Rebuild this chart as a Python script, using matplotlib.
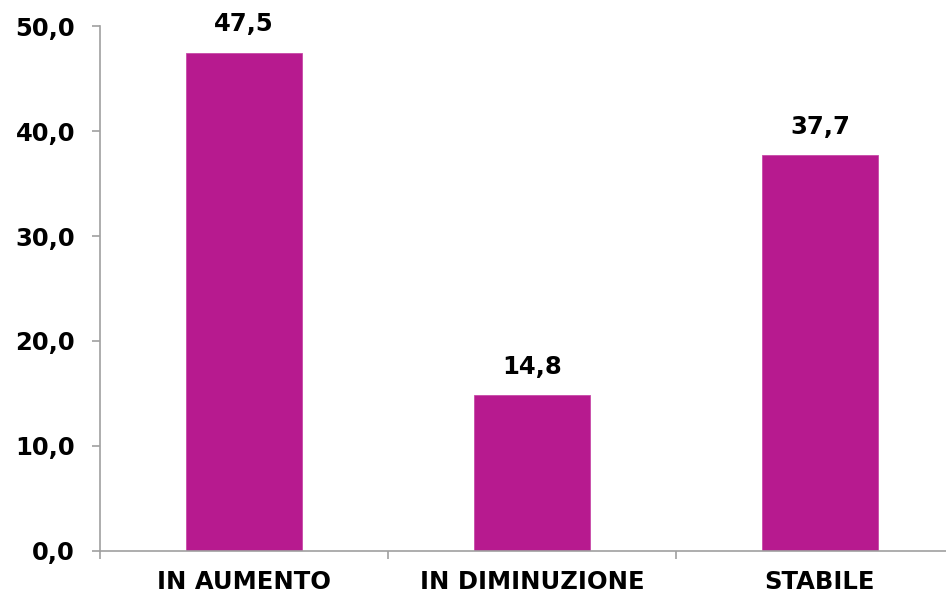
import matplotlib
matplotlib.use("Agg")
import matplotlib.pyplot as plt
from matplotlib.ticker import FixedLocator

categories = ["IN AUMENTO", "IN DIMINUZIONE", "STABILE"]
values = [47.5, 14.8, 37.7]
yticks = [0, 10, 20, 30, 40, 50]

W, H = 946, 598
fig = plt.figure(figsize=(W / 100, H / 100), dpi=100)
left, right = 100 / W, 964 / W
bottom, top = (H - 550.7) / H, (H - 26.3) / H
ax = fig.add_axes([left, bottom, right - left, top - bottom])

x = list(range(len(categories)))
bars = ax.bar(x, values, width=0.4, color="#B71A8F", edgecolor="#C84AA8", linewidth=0.6, zorder=2)

ax.set_xlim(-0.5, 2.5)
ax.set_ylim(0, 50)

FS = 17.5
for xi, v in zip(x, values):
    ax.annotate(f"{v:.1f}".replace(".", ","), (xi, v), xytext=(0, 12), textcoords="offset points",
                ha="center", va="bottom", fontsize=FS, fontweight="bold", color="black")

ax.set_xticks(x)
ax.set_xticklabels(categories, fontsize=FS, fontweight="bold")
ax.tick_params(axis="x", which="major", length=0, pad=14)
ax.xaxis.set_minor_locator(FixedLocator([-0.5, 0.5, 1.5, 2.5]))
ax.tick_params(axis="x", which="minor", length=6, width=1.2, color="#A0A0A0", direction="out")

ax.set_yticks(yticks)
ax.set_yticklabels([f"{t:.1f}".replace(".", ",") for t in yticks], fontsize=FS, fontweight="bold")
ax.tick_params(axis="y", length=6, width=1.2, color="#A0A0A0", direction="out", pad=12)

for s in ["top", "right"]:
    ax.spines[s].set_visible(False)
for s in ["left", "bottom"]:
    ax.spines[s].set_color("#A0A0A0")
    ax.spines[s].set_linewidth(1.2)

fig.savefig("out.png", dpi=100)
